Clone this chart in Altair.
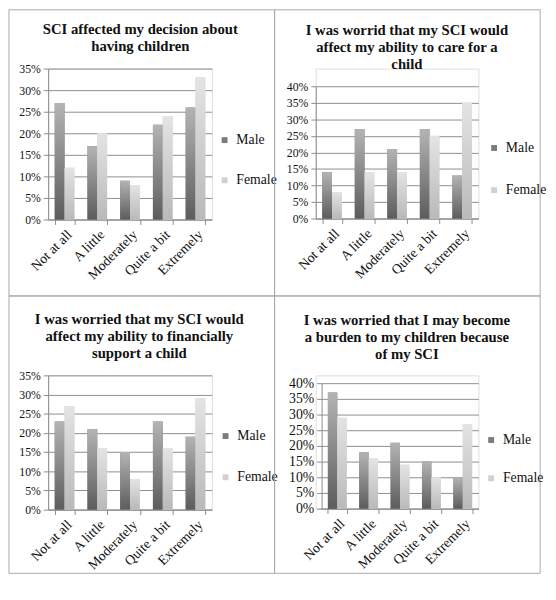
import altair as alt
import pandas as pd

categories = ["Not at all", "A little", "Moderately", "Quite a bit", "Extremely"]
genders = ["Male", "Female"]

title1 = ["SCI affected my decision about", "having children"]
male1 = [0.27, 0.17, 0.09, 0.22, 0.26]
female1 = [0.12, 0.20, 0.08, 0.24, 0.33]

title2 = ["I was worrid that my SCI would", "affect my ability to care for a", "child"]
male2 = [0.14, 0.27, 0.21, 0.27, 0.13]
female2 = [0.08, 0.14, 0.14, 0.25, 0.35]

title3 = ["I was worried that my SCI would", "affect my ability to financially", "support a child"]
male3 = [0.23, 0.21, 0.15, 0.23, 0.19]
female3 = [0.27, 0.16, 0.08, 0.16, 0.29]

title4 = ["I was worried that I may become", "a burden to my children because", "of my SCI"]
male4 = [0.37, 0.18, 0.21, 0.15, 0.10]
female4 = [0.29, 0.16, 0.14, 0.10, 0.27]

ticks35 = [0, 0.05, 0.10, 0.15, 0.20, 0.25, 0.30, 0.35]
ticks40 = [0, 0.05, 0.10, 0.15, 0.20, 0.25, 0.30, 0.35, 0.40]

FONT = "Liberation Serif"

male_grad = alt.Gradient(
    gradient="linear", x1=0, y1=1, x2=0, y2=0,
    stops=[alt.GradientStop(color="#5c5c5c", offset=0),
           alt.GradientStop(color="#b4b4b4", offset=1)])
female_grad = alt.Gradient(
    gradient="linear", x1=0, y1=1, x2=0, y2=0,
    stops=[alt.GradientStop(color="#b9b9b9", offset=0),
           alt.GradientStop(color="#e4e4e4", offset=1)])


def panel(title, male, female, ticks, w, h, ytop, xleft, frame, leg, tpos, tick_fs, xlab_fs):
    df = pd.DataFrame({
        "cat": categories * 2,
        "gender": ["Male"] * 5 + ["Female"] * 5,
        "pct": male + female,
    })
    x = alt.X("cat:N", sort=categories,
              scale=alt.Scale(paddingInner=0.4, paddingOuter=0.2, range=[xleft, w]),
              axis=alt.Axis(title=None, labelAngle=-45, tickBand="extent", grid=False,
                            labelFont=FONT, labelFontSize=xlab_fs, labelColor="#111",
                            domainColor="#8a8a8a", tickColor="#8a8a8a", tickSize=5,
                            labelPadding=3, labelAlign="right", labelBaseline="top"))
    y = alt.Y("pct:Q", scale=alt.Scale(domain=[0, ticks[-1]], nice=False, range=[h, ytop]),
              axis=alt.Axis(title=None, values=ticks, format=".0%", grid=True,
                            gridColor="#8c8c8c", gridWidth=1, offset=-xleft,
                            labelFont=FONT, labelFontSize=tick_fs, labelColor="#111",
                            domainColor="#8a8a8a", tickColor="#8a8a8a", tickSize=5,
                            labelPadding=3))
    xo = alt.XOffset("gender:N", sort=genders,
                     scale=alt.Scale(domain=genders, paddingInner=0, paddingOuter=0))
    base = alt.Chart(df).mark_bar().encode(
        x=x, y=y, xOffset=xo,
        color=alt.Color("gender:N", sort=genders,
                        scale=alt.Scale(domain=genders, range=["#7b7b7b", "#d0d0d0"]),
                        legend=alt.Legend(title=None, orient="none", legendX=leg[0], legendY=leg[1],
                                          symbolType="square", symbolSize=36, symbolStrokeWidth=0,
                                          labelFont=FONT, labelFontSize=14, labelColor="#111",
                                          rowPadding=leg[2], labelOffset=5, padding=0)))
    gm = alt.Chart(df).transform_filter("datum.gender == 'Male'").mark_bar(
        color=male_grad).encode(x=x, y=y, xOffset=xo)
    gf = alt.Chart(df).transform_filter("datum.gender == 'Female'").mark_bar(
        color=female_grad).encode(x=x, y=y, xOffset=xo)
    one = pd.DataFrame({"k": [0]})
    border = alt.Chart(one).mark_rect(
        filled=False, stroke="#a8a8a8", strokeWidth=1).encode(
        x=alt.value(frame[0]), x2=alt.value(frame[1]),
        y=alt.value(frame[2]), y2=alt.value(frame[3]))
    ttl = alt.Chart(one).mark_text(
        font=FONT, fontSize=15, fontWeight="bold", lineHeight=17, align="center",
        baseline="top", color="#111").encode(
        x=alt.value(tpos[0]), y=alt.value(tpos[1]), text=alt.value(title))
    return alt.layer(base, gm, gf, border, ttl).properties(width=w, height=h)


p1 = panel(title1, male1, female1, ticks35, 167, 154, 0, 0, (-40, 231, -60, 232), (173, 66, 27), (94, -47), 12, 14)
p2 = panel(title2, male2, female2, ticks40, 166, 153, 18, 0, (-42, 229, -60, 232), (175, 74, 29), (93, -46), 12, 14)
p3 = panel(title3, male3, female3, ticks35, 167, 137, 0, 0, (-40, 231, -81, 202), (174, 55, 28), (93, -64), 12, 14)
p4 = panel(title4, male4, female4, ticks40, 166, 136, 8, 6, (-42, 229, -81, 202), (172, 59, 25), (93, -63), 14, 14)

chart = alt.concat(p1, p2, p3, p4, columns=2, bounds="flush",
                   spacing=alt.RowColnumber(row=159, column=106)).resolve_scale(
    color="independent", xOffset="independent"
).properties(
    padding=alt.Padding(top=-5, bottom=0, left=0, right=0)
).configure_view(stroke=None).configure(background="white")

chart.save("out.html", embed_options={"renderer": "svg", "actions": False})
